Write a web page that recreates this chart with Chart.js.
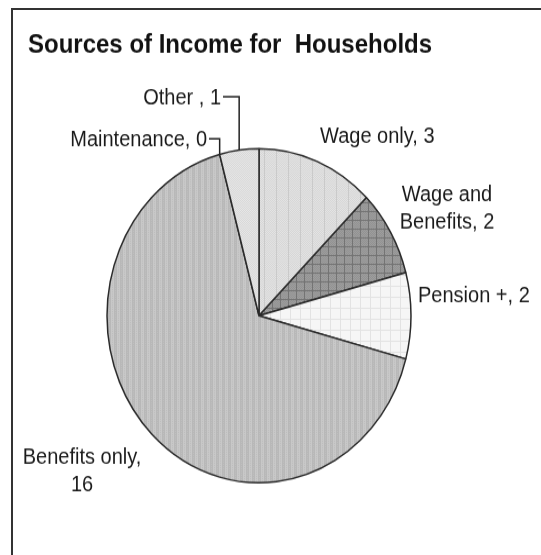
<!DOCTYPE html>
<html><head><meta charset="utf-8">
<script src="https://cdn.jsdelivr.net/npm/chart.js@4"></script>
<style>
html,body{margin:0;padding:0;background:#fff;width:541px;height:555px;overflow:hidden;}
#wrap{position:absolute;left:0;top:0;width:541px;height:505px;transform:scaleY(1.099);transform-origin:0 0;}
#frame{position:absolute;left:11px;top:8px;width:560px;height:580px;border-top:2px solid #333;border-left:2px solid #333;}
</style></head><body>
<div id="wrap"><canvas id="c" width="541" height="505" style="width:541px;height:505px"></canvas></div>
<div id="frame"></div>
<script>
// ---- data ----
const titleText = 'Sources of Income for  Households';
const categories = ['Wage only', 'Wage and Benefits', 'Pension +', 'Benefits only', 'Maintenance', 'Other'];
const values = [3, 2, 2, 16, 0, 1];
const labelLines = [['Wage only, 3'], ['Wage and', 'Benefits, 2'], ['Pension +, 2'], ['Benefits only,', '16'], ['Maintenance, 0'], ['Other , 1']];

// ---- label layout (not data) ----
const labelLayout = [
  {x: 320, y: 124.5, align: 'left'},
  {x: 447, y: 177.3, align: 'center'},
  {x: 418, y: 269.1, align: 'left'},
  {x: 82, y: 416.4, align: 'center'},
  {x: 207, y: 127.3, align: 'right', leader: true},
  {x: 221, y: 89.1, align: 'right', leader: true}
];

const canvas = document.getElementById('c');
const ctx0 = canvas.getContext('2d');
function pat(w, h, draw) {
  const c = document.createElement('canvas'); c.width = w; c.height = h;
  const g = c.getContext('2d'); draw(g, w, h);
  return ctx0.createPattern(c, 'repeat');
}
function px(g, x, y, col) { g.fillStyle = col; g.fillRect(x, y, 1, 1); }

const fills = [
  pat(12, 4, (g, w, h) => { g.fillStyle = '#e4e4e4'; g.fillRect(0,0,w,h);
    for (let y=0;y<h;y++) for (let x=0;x<w;x++) if ((x+y)%2===0) px(g,x,y,'#d6d6d6');
    g.fillStyle = '#cacaca'; g.fillRect(0,0,1,h); }),
  pat(8, 8, (g, w, h) => { g.fillStyle = '#9e9e9e'; g.fillRect(0,0,w,h);
    for (let y=0;y<h;y++) for (let x=0;x<w;x++) if ((x+y)%2===0) px(g,x,y,'#929292');
    g.fillStyle = '#747474'; g.fillRect(0,0,1,h); g.fillRect(0,0,w,1); }),
  pat(10, 10, (g, w, h) => { g.fillStyle = '#f6f6f6'; g.fillRect(0,0,w,h);
    g.fillStyle = '#e3e3e3'; g.fillRect(0,0,1,h); g.fillRect(0,0,w,1); }),
  pat(6, 2, (g, w, h) => { g.fillStyle = '#b8b8b8'; g.fillRect(0,0,3,h);
    g.fillStyle = '#c8c8c8'; g.fillRect(3,0,3,h); px(g,1,0,'#c0c0c0'); px(g,4,1,'#bdbdbd'); }),
  '#dddddd',
  pat(4, 4, (g, w, h) => { g.fillStyle = '#e7e7e7'; g.fillRect(0,0,w,h);
    for (let y=0;y<h;y++) for (let x=0;x<w;x++) if ((x+y)%2===0) px(g,x,y,'#d8d8d8'); })
];

const labelPlugin = {
  id: 'pieLabels',
  afterDatasetsDraw(chart) {
    const ctx = chart.ctx;
    const meta = chart.getDatasetMeta(0);
    ctx.save();
    ctx.fillStyle = '#111';
    ctx.font = 'bold 24px "Liberation Sans", Arial, sans-serif';
    ctx.textBaseline = 'alphabetic'; ctx.textAlign = 'left';
    ctx.fillText(titleText, 28, 48.2);
    ctx.font = '20px "Liberation Sans", Arial, sans-serif';
    ctx.textBaseline = 'middle';
    ctx.fillStyle = '#1a1a1a';
    ctx.strokeStyle = '#222'; ctx.lineWidth = 1.5;
    meta.data.forEach((arc, i) => {
      const L = labelLayout[i];
      const lines = labelLines[i];
      ctx.textAlign = L.align;
      lines.forEach((t, k) => ctx.fillText(t, L.x, L.y + k * 25));
      if (L.leader) {
        const p = arc.getProps(['x', 'y', 'startAngle', 'endAngle', 'outerRadius'], true);
        const mid = (p.startAngle + p.endAngle) / 2;
        const ex = p.x + p.outerRadius * Math.cos(mid), ey = p.y + p.outerRadius * Math.sin(mid);
        const w = ctx.measureText(lines[0]).width;
        const sx = (L.align === 'right' ? L.x : L.x + w) + 2;
        ctx.beginPath(); ctx.moveTo(sx, L.y - 1); ctx.lineTo(ex, L.y - 1); ctx.lineTo(ex, ey); ctx.stroke();
      }
    });
    ctx.restore();
  }
};

new Chart(canvas, {
  type: 'pie',
  data: {
    labels: categories,
    datasets: [{
      data: values,
      backgroundColor: fills,
      borderColor: '#2a2a2a',
      borderWidth: 1.5,
      radius: 152
    }]
  },
  options: {
    responsive: false,
    devicePixelRatio: 1,
    animation: false,
    layout: {padding: {left: 100, right: 123, top: 110, bottom: 40.4}},
    plugins: {legend: {display: false}, title: {display: false}, tooltip: {enabled: false}}
  },
  plugins: [labelPlugin]
});
</script>
</body></html>
